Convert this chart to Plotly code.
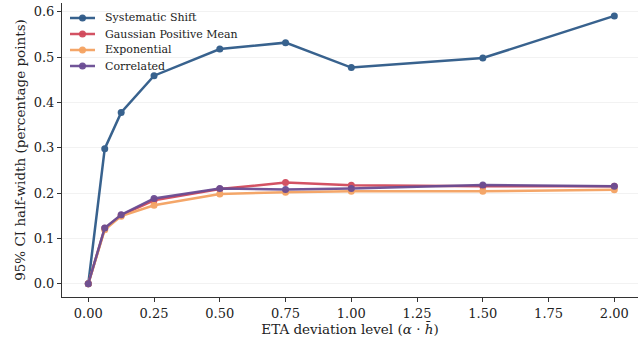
import plotly.graph_objects as go

# ETA deviation levels (alpha * h-bar)
deviation = [0.0, 0.0625, 0.125, 0.25, 0.5, 0.75, 1.0, 1.5, 2.0]

# 95% CI half-width (percentage points) per deviation model
systematic_shift = [0.0, 0.298, 0.378, 0.459, 0.518, 0.532, 0.477, 0.498, 0.591]
gaussian_pos_mean = [0.0, 0.122, 0.151, 0.184, 0.209, 0.223, 0.217, 0.215, 0.215]
exponential = [0.0, 0.119, 0.149, 0.173, 0.198, 0.202, 0.204, 0.204, 0.207]
correlated = [0.0, 0.123, 0.152, 0.188, 0.210, 0.208, 0.210, 0.218, 0.215]

series = [
    ("Systematic Shift", systematic_shift, "#2E5A88"),
    ("Gaussian Positive Mean", gaussian_pos_mean, "#D1495B"),
    ("Exponential", exponential, "#F4A261"),
    ("Correlated", correlated, "#6A4C93"),
]

x_ticks = [0.0, 0.25, 0.5, 0.75, 1.0, 1.25, 1.5, 1.75, 2.0]
y_ticks = [0.0, 0.1, 0.2, 0.3, 0.4, 0.5, 0.6]

FONT = "DejaVu Serif"
TEXT = "#222222"
W, H = 638, 343
MARGIN = dict(l=62, r=0, t=3, b=46)
PLOT_W = W - MARGIN["l"] - MARGIN["r"]
PLOT_H = H - MARGIN["t"] - MARGIN["b"]


def px_to_paper(px, py):
    """Convert a pixel position on the page to paper coordinates."""
    return (px - MARGIN["l"]) / PLOT_W, (H - MARGIN["b"] - py) / PLOT_H


fig = go.Figure()
for name, values, color in series:
    fig.add_trace(go.Scatter(
        x=deviation, y=values, name=name, mode="lines+markers",
        line=dict(color=color, width=2.5),
        marker=dict(color=color, size=7),
        opacity=0.95, showlegend=False,
    ))

# Compact legend in the upper-left corner (line sample, marker, label)
for i, (name, _, color) in enumerate(series):
    row_y = 18 + 16 * i
    x0, y0 = px_to_paper(70, row_y)
    x1, _ = px_to_paper(95, row_y)
    xm, _ = px_to_paper(82.5, row_y)
    rx = 3.5 / PLOT_W
    ry = 3.5 / PLOT_H
    fig.add_shape(type="line", xref="paper", yref="paper",
                  x0=x0, x1=x1, y0=y0, y1=y0,
                  line=dict(color=color, width=2.5), opacity=0.95)
    fig.add_shape(type="circle", xref="paper", yref="paper",
                  x0=xm - rx, x1=xm + rx, y0=y0 - ry, y1=y0 + ry,
                  line=dict(width=0), fillcolor=color, opacity=0.95)
    xt, _ = px_to_paper(103, row_y)
    fig.add_annotation(xref="paper", yref="paper", x=xt, y=y0,
                       xanchor="left", yanchor="middle", showarrow=False,
                       text=name, font=dict(family=FONT, size=11, color=TEXT))

fig.update_layout(
    width=W, height=H,
    margin=MARGIN,
    paper_bgcolor="white", plot_bgcolor="white",
    font=dict(family=FONT, size=12, color=TEXT),
    showlegend=False,
)

fig.update_xaxes(
    range=[-0.1, 2.09], tickvals=x_ticks,
    ticktext=[f"{v:.2f}" for v in x_ticks],
    showgrid=False, zeroline=False,
    showline=True, linecolor="#333333", linewidth=1,
    ticks="outside", ticklen=4, tickcolor="#333333",
    tickfont=dict(family=FONT, size=13, color=TEXT),
    title=dict(text="ETA deviation level (<i>α</i> · <i>h̄</i>)",
               font=dict(family=FONT, size=13.5, color=TEXT), standoff=4),
)
fig.update_yaxes(
    range=[-0.0295, 0.6195], tickvals=y_ticks,
    ticktext=[f"{v:.1f}" for v in y_ticks],
    showgrid=True, gridcolor="#F2F2F2", gridwidth=1, zeroline=False,
    showline=True, linecolor="#333333", linewidth=1,
    ticks="outside", ticklen=4, tickcolor="#333333",
    tickfont=dict(family=FONT, size=13, color=TEXT),
    title=dict(text="95% CI half-width (percentage points)",
               font=dict(family=FONT, size=13.5, color=TEXT), standoff=4),
)

fig.write_html("out.html")
